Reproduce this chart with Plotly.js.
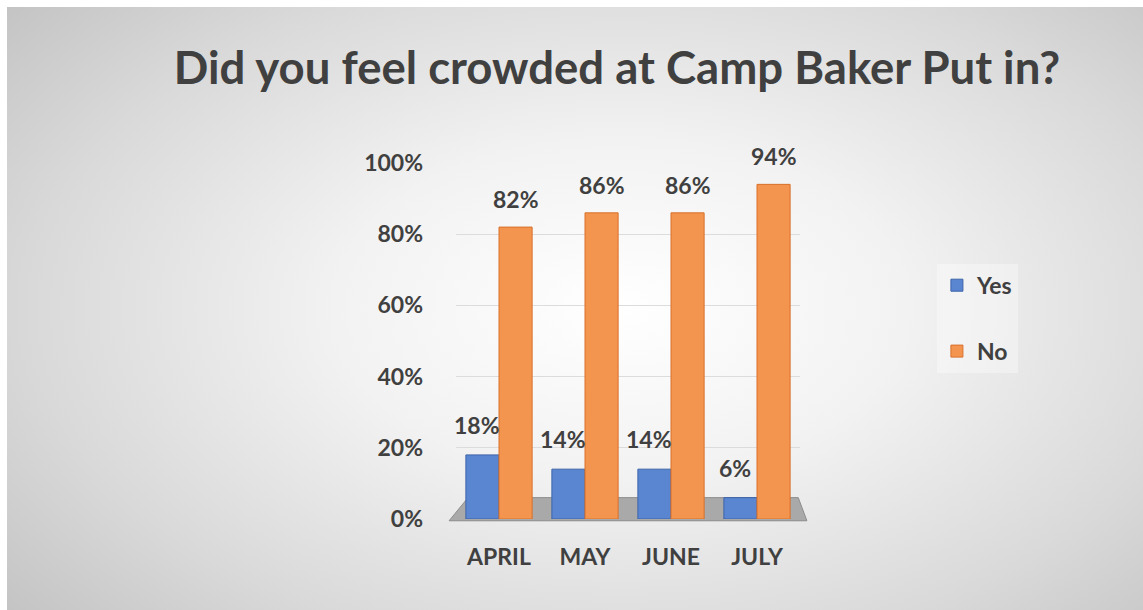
<!DOCTYPE html>
<html>
<head>
<meta charset="utf-8">
<script src="https://cdn.plot.ly/plotly-3.0.1.min.js"></script>
<style>
html,body{margin:0;padding:0;background:#fff;width:1143px;height:610px;overflow:hidden;}
#bg{position:absolute;left:7px;top:7px;width:1136px;height:603px;
background:radial-gradient(ellipse 72% 80% at 54% 50%, #ffffff 0%, #f2f2f2 35%, #d9d9d9 72%, #c2c2c2 100%);}
#chart{position:absolute;left:0;top:0;width:1143px;height:610px;}
</style>
</head>
<body>
<div id="bg"></div>
<div id="chart"></div>
<script>
const months = ["APRIL", "MAY", "JUNE", "JULY"];
const yesValues = [0.18, 0.14, 0.14, 0.06];
const noValues = [0.82, 0.86, 0.86, 0.94];
const seriesNames = ["Yes", "No"];
const titleText = "Did you feel crowded at Camp Baker Put in?";

const txtColor = "#404040";
const fontFam = "Lato, 'Open Sans', sans-serif";

const traces = [
  {
    type: "bar", name: seriesNames[0], x: months, y: yesValues,
    legendgroup: "a",
    marker: {color: "#5a86d1", line: {color: "#3c63a8", width: 1}},
    hoverinfo: "skip"
  },
  {
    type: "bar", name: seriesNames[1], x: months, y: noValues,
    legendgroup: "b",
    marker: {color: "#f4954f", line: {color: "#d8702a", width: 1}},
    hoverinfo: "skip"
  }
];

const pct = v => Math.round(v * 100) + "%";
const labelFont = {family: fontFam, size: 23, color: txtColor, weight: 700};
const annotations = [];
months.forEach((m, i) => {
  annotations.push({x: m, y: yesValues[i], xref: "x", yref: "y", text: pct(yesValues[i]),
    showarrow: false, xanchor: "center", yanchor: "bottom", xshift: -22, yshift: 14, font: labelFont});
  annotations.push({x: m, y: noValues[i], xref: "x", yref: "y", text: pct(noValues[i]),
    showarrow: false, xanchor: "center", yanchor: "bottom", xshift: 17, yshift: 12, font: labelFont});
});

const layout = {
  width: 1143, height: 610, autosize: false,
  paper_bgcolor: "rgba(0,0,0,0)", plot_bgcolor: "rgba(0,0,0,0)",
  margin: {l: 456, r: 343, t: 163, b: 91, pad: 0},
  barmode: "group", bargap: 0.23, bargroupgap: 0,
  font: {family: fontFam, color: txtColor},
  title: {
    text: titleText, xref: "container", yref: "container",
    x: 617 / 1143, xanchor: "center", y: 1 - 68 / 610, yanchor: "middle",
    font: {family: fontFam, size: 45.5, color: txtColor, weight: 700}
  },
  xaxis: {
    type: "category", range: [-0.5, months.length - 0.5],
    showline: false, zeroline: false, showgrid: false,
    automargin: false,
    ticks: "", ticklabelstandoff: 22,
    tickfont: {family: fontFam, size: 23, color: txtColor, weight: 700}
  },
  yaxis: {
    range: [0, 1], dtick: 0.2, tickformat: ".0%",
    showline: false, zeroline: false, showgrid: true, automargin: false,
    gridcolor: "#dcdcdc", gridwidth: 1,
    ticks: "", ticklabelstandoff: 32,
    tickfont: {family: fontFam, size: 23, color: txtColor, weight: 700}
  },
  legend: {
    x: 1.398, xanchor: "left", y: 0.717, yanchor: "top",
    bgcolor: "rgba(255,255,255,0.35)", borderwidth: 0,
    traceorder: "grouped", tracegroupgap: 33,
    font: {family: fontFam, size: 23, color: txtColor, weight: 700}
  },
  annotations: annotations,
  shapes: [
    {
      type: "path", xref: "paper", yref: "paper", layer: "below",
      path: "M -0.02 -0.005 L 1.02 -0.005 L 0.995 0.06 L 0.035 0.06 Z",
      fillcolor: "#a9a9a9", line: {color: "#8c8c8c", width: 1}
    }
  ]
};

Plotly.newPlot("chart", traces, layout, {displayModeBar: false, staticPlot: true});
</script>
</body>
</html>
